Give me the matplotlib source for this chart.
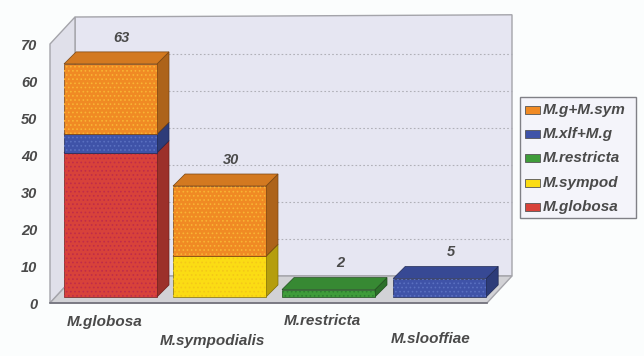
"""Stacked pseudo-3D bar chart of Malassezia species counts."""
import numpy as np
import matplotlib.pyplot as plt
from matplotlib.patches import Polygon, Rectangle

# ── Data ─────────────────────────────────────────────────────────────────────

species = ["M.globosa", "M.sympodialis", "M.restricta", "M.slooffiae"]
val_globosa = [39, 0, 0, 0]
val_sympod = [0, 11, 0, 0]
val_restricta = [0, 0, 2, 0]
val_xlf_g = [5, 0, 0, 5]
val_g_sym = [19, 19, 0, 0]
yticks = [0, 10, 20, 30, 40, 50, 60, 70]

series_names = ["M.globosa", "M.sympod", "M.restricta", "M.xlf+M.g", "M.g+M.sym"]
legend_names = ["M.g+M.sym", "M.xlf+M.g", "M.restricta", "M.sympod", "M.globosa"]
series_vals = [val_globosa, val_sympod, val_restricta, val_xlf_g, val_g_sym]

colors = {"M.globosa": "#d8423a", "M.sympod": "#fbdc14", "M.restricta": "#3f9c3a",
          "M.xlf+M.g": "#3f53a8", "M.g+M.sym": "#f08a24"}
speckle = {"M.globosa": "#c02c48", "M.sympod": "#f4c818", "M.restricta": "#2e8030",
           "M.xlf+M.g": "#5a70c0", "M.g+M.sym": "#f8b434"}

# ── Scales: one x unit is a bar slot, y is in counts ─────────────────────────

W, H = 644, 356
X_UNIT = 109.0
Y_UNIT = 3.7
X0_PX = 110.5
Y0_PX = 297.0

BAR_W = 93 / X_UNIT
BAR_DX, BAR_DY = 12 / X_UNIT, 12 / Y_UNIT
WALL_DX, WALL_DY = 25 / X_UNIT, 27 / Y_UNIT
FLOOR = -6 / Y_UNIT
LEFT, RIGHT = (50 - X0_PX) / X_UNIT, (487 - X0_PX) / X_UNIT
SLOT_SHIFT = [0, 0, 0, 0.02]

TEXT = "#4a4a4a"
plt.rcParams["font.family"] = ["Liberation Sans", "DejaVu Sans"]
plt.rcParams["hatch.linewidth"] = 0.7

fig = plt.figure(figsize=(W / 100, H / 100), dpi=100, facecolor="#fbfdfd")
ax = fig.add_axes([0, 0, 1, 1])
ax.set_xlim(-X0_PX / X_UNIT, (W - X0_PX) / X_UNIT)
ax.set_ylim(-(H - Y0_PX) / Y_UNIT, Y0_PX / Y_UNIT)
ax.axis("off")


def shade(color, f):
    rgb = np.array(plt.matplotlib.colors.to_rgb(color))
    return tuple(rgb * f)


def box(x, y0, y1, name, z):
    color = colors[name]
    edge = shade(color, 0.5)
    l, r = x - BAR_W / 2, x + BAR_W / 2
    ax.add_patch(Polygon([(r, y0), (r + BAR_DX, y0 + BAR_DY), (r + BAR_DX, y1 + BAR_DY), (r, y1)],
                         fc=shade(color, 0.72), ec=edge, lw=0.5, zorder=z))
    ax.add_patch(Polygon([(l, y1), (r, y1), (r + BAR_DX, y1 + BAR_DY), (l + BAR_DX, y1 + BAR_DY)],
                         fc=shade(color, 0.88), ec=edge, lw=0.5, zorder=z))
    ax.add_patch(Rectangle((l, y0), BAR_W, y1 - y0, fc=color, ec=edge, lw=0.5, zorder=z))
    ax.add_patch(Rectangle((l, y0), BAR_W, y1 - y0, fill=False, ec=speckle[name], lw=0,
                           hatch="....", zorder=z))


# ── Walls and floor ──────────────────────────────────────────────────────────

top = FLOOR + 70
wall_kw = dict(ec="#a4a4aa", lw=1.0, zorder=1)
ax.add_patch(Polygon([(LEFT + WALL_DX, FLOOR + WALL_DY), (RIGHT + WALL_DX, FLOOR + WALL_DY),
                      (RIGHT + WALL_DX, top + WALL_DY + 0.6), (LEFT + WALL_DX, top + WALL_DY)],
                     fc="#e6e6f2", **wall_kw))
ax.add_patch(Polygon([(LEFT, FLOOR), (LEFT + WALL_DX, FLOOR + WALL_DY),
                      (LEFT + WALL_DX, top + WALL_DY), (LEFT, top)],
                     fc="#e0e0ea", **wall_kw))
ax.add_patch(Polygon([(LEFT, FLOOR), (RIGHT, FLOOR),
                      (RIGHT + WALL_DX, FLOOR + WALL_DY), (LEFT + WALL_DX, FLOOR + WALL_DY)],
                     fc="#d2d2d6", **wall_kw))
ax.plot([LEFT, RIGHT], [FLOOR, FLOOR], color="#70707a", lw=1.2, zorder=2)

for t in yticks[1:-1]:
    ax.plot([LEFT + WALL_DX, RIGHT + WALL_DX], [FLOOR + t + WALL_DY] * 2,
            color="#b0b0b8", lw=0.8, ls=(0, (1.5, 2)), zorder=2)
for t in yticks:
    ax.text(LEFT - 0.115, FLOOR + t - 0.6, str(t), ha="right", va="center", fontsize=10.5,
            fontweight="bold", fontstyle="italic", color=TEXT)

# ── Stacked bars ─────────────────────────────────────────────────────────────

totals = np.sum(series_vals, axis=0)
for i, total in enumerate(totals):
    x = i + SLOT_SHIFT[i]
    base = 0
    for j, (name, vals) in enumerate(zip(series_names, series_vals)):
        if vals[i] == 0:
            continue
        box(x, base, base + vals[i], name, 5 + i + j * 0.1)
        base += vals[i]
    ax.text(x + BAR_DX / 2 + 0.05, total + BAR_DY + 2.0, str(total), ha="center", va="bottom",
            fontsize=10.5, fontweight="bold", fontstyle="italic", color=TEXT, zorder=20)

# category labels alternate between two rows
label_y = [-6.7, -11.8, -6.4, -11.3]
label_x = [-0.05, -0.065, -0.06, -0.06]
for i, name in enumerate(species):
    ax.text(i + label_x[i], label_y[i], name, ha="center", va="center", fontsize=11,
            fontweight="bold", fontstyle="italic", color=TEXT)

# ── Legend ───────────────────────────────────────────────────────────────────

lx0, lx1 = (520 - X0_PX) / X_UNIT, (636 - X0_PX) / X_UNIT
ly0, ly1 = (Y0_PX - 218) / Y_UNIT, (Y0_PX - 97) / Y_UNIT
ax.add_patch(Rectangle((lx0, ly0), lx1 - lx0, ly1 - ly0, fc="#f4f4fa", ec="#808086", lw=1.0, zorder=30))
for k, name in enumerate(legend_names):
    y_mid = (Y0_PX - (110 + 24.2 * k)) / Y_UNIT
    ax.add_patch(Rectangle((lx0 + 5 / X_UNIT, y_mid - 4 / Y_UNIT), 15 / X_UNIT, 8 / Y_UNIT,
                           fc=colors[name], ec="#555555", lw=0.6, zorder=31))
    ax.text(lx0 + 23 / X_UNIT, y_mid, name, ha="left", va="center", fontsize=11,
            fontweight="bold", fontstyle="italic", color=TEXT, zorder=31)

plt.savefig("out.png", dpi=100, facecolor=fig.get_facecolor())
plt.close()
